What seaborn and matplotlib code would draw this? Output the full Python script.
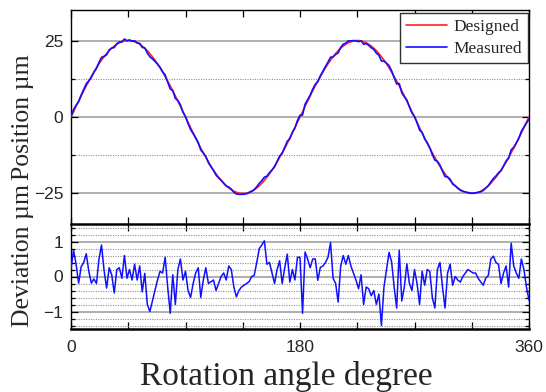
import numpy as np
import pandas as pd
import matplotlib
matplotlib.use("Agg")
import matplotlib.pyplot as plt
import seaborn as sns

# ---------------- data ----------------
angles = list(range(0, 361, 2))  # rotation angle, degree

designed = [
    0.0, 1.7, 3.5, 5.2, 6.9, 8.6, 10.2, 11.7, 13.2, 14.7, 16.1, 17.4, 18.6, 19.7, 20.7, 21.7, 22.5, 23.2, 23.8, 24.3, 24.6, 24.9, 25.0,
    25.0, 24.9, 24.6, 24.3, 23.8, 23.2, 22.5, 21.7, 20.7, 19.7, 18.6, 17.4, 16.1, 14.7, 13.2, 11.7, 10.2, 8.6, 6.9, 5.2, 3.5, 1.7,
    0.0, -1.7, -3.5, -5.2, -6.9, -8.6, -10.2, -11.7, -13.2, -14.7, -16.1, -17.4, -18.6, -19.7, -20.7, -21.7, -22.5, -23.2, -23.8, -24.3, -24.6, -24.9, -25.0,
    -25.0, -24.9, -24.6, -24.3, -23.8, -23.2, -22.5, -21.7, -20.7, -19.7, -18.6, -17.4, -16.1, -14.7, -13.2, -11.7, -10.2, -8.6, -6.9, -5.2, -3.5, -1.7,
    0.0, 1.7, 3.5, 5.2, 6.9, 8.6, 10.2, 11.7, 13.2, 14.7, 16.1, 17.4, 18.6, 19.7, 20.7, 21.7, 22.5, 23.2, 23.8, 24.3, 24.6, 24.9, 25.0,
    25.0, 24.9, 24.6, 24.3, 23.8, 23.2, 22.5, 21.7, 20.7, 19.7, 18.6, 17.4, 16.1, 14.7, 13.2, 11.7, 10.2, 8.6, 6.9, 5.2, 3.5, 1.7,
    0.0, -1.7, -3.5, -5.2, -6.9, -8.6, -10.2, -11.7, -13.2, -14.7, -16.1, -17.4, -18.6, -19.7, -20.7, -21.7, -22.5, -23.2, -23.8, -24.3, -24.6, -24.9, -25.0,
    -25.0, -24.9, -24.6, -24.3, -23.8, -23.2, -22.5, -21.7, -20.7, -19.7, -18.6, -17.4, -16.1, -14.7, -13.2, -11.7, -10.2, -8.6, -6.9, -5.2, -3.5, -1.7,
    0.0,
]

deviation = [
    0.22, 0.75, 0.35, -0.19, 0.28, 0.40, 0.65, 0.15, -0.19, -0.07,
    -0.20, 0.50, 0.90, 0.17, -0.33, 0.25, 0.05, -0.47, 0.20, 0.25,
    -0.05, 0.60, -0.05, 0.20, -0.10, 0.35, -0.10, 0.30, -0.44, 0.09,
    -0.80, -1.00, -0.70, -0.40, -0.10, 0.15, 0.10, 0.55, -0.30, -1.05,
    0.05, -0.80, 0.20, 0.50, -0.10, 0.15, -0.40, -0.60, -0.20, 0.10,
    0.25, -0.60, -0.10, 0.25, -0.20, -0.15, -0.10, -0.40, -0.20, 0.00,
    0.10,
    -0.10, 0.30, 0.20, -0.30, -0.58, -0.40, -0.30, -0.25, -0.20, -0.15,
    0.00, 0.03, 0.40, 0.80, 0.90, 1.02, 0.35, 0.40, 0.10, -0.20,
    0.20, 0.45, -0.20, 0.25, 0.64, -0.16, 0.20, -0.10, 0.55, 0.55,
    -1.05, 0.70, 0.50, 0.25, 0.50, 0.50, -0.11, 0.26, 0.30, 0.40,
    0.55, 0.97, -0.05, -0.20, -0.73, 0.30, 0.60, 0.35, 0.60, 0.30,
    0.10, -0.10, -0.35, 0.05, -0.80, -0.30, -0.35, -0.55, -0.40, -0.80,
    -0.50, -1.40, -0.30, 0.20, 0.69, 0.42, -0.30, -0.90, 0.75, -0.70,
    -0.30, 0.36, -0.20, -0.40, 0.20, -0.20, -0.80, 0.15, -0.25, 0.20,
    0.15, -0.60, -0.90, 0.20, 0.40, -0.30, -0.90, 0.10, 0.35, -0.25,
    0.00,
    -0.10, -0.16, 0.00, 0.10, 0.20, 0.15, 0.10, 0.10, -0.05, -0.15,
    -0.25, -0.05, 0.03, 0.50, 0.58, 0.40, 0.35, -0.20, 0.10, 0.30,
    -0.30, 0.95, 0.30, 0.10, -0.05, 0.50, 0.20, -0.30, -0.68,
]

measured = [d + e for d, e in zip(designed, deviation)]

x_ticks = [0, 180, 360]
x_tick_labels = ["0", "180", "360"]
x_minor = [45, 90, 135, 225, 270, 315]
pos_ticks = [-25, 0, 25]
pos_minor = [-12.5, 12.5]
dev_ticks = [-1, 0, 1]
dev_minor = [-1.4, -1.2, -0.8, -0.6, -0.4, -0.2, 0.2, 0.4, 0.6, 0.8, 1.2, 1.4]

df = pd.DataFrame({"angle": angles, "Designed": designed,
                   "Measured": measured, "Deviation": deviation})

# ---------------- style ----------------
sns.set_style("white")
plt.rcParams["font.family"] = ["Liberation Sans", "DejaVu Sans"]
plt.rcParams["axes.unicode_minus"] = True

fig = plt.figure(figsize=(5.46, 3.92), dpi=100)
L, W = 71 / 546, 458 / 546
ax1 = fig.add_axes([L, 1 - 224 / 392, W, 214 / 392])
ax2 = fig.add_axes([L, 1 - 329 / 392, W, 105 / 392])

serif = ["Liberation Serif", "DejaVu Serif"]

# top panel: position
sns.lineplot(data=df, x="angle", y="Designed", ax=ax1, color="#ff2020",
             lw=1.2, label="Designed", estimator=None, sort=False, zorder=3)
sns.lineplot(data=df, x="angle", y="Measured", ax=ax1, color="#1010ff",
             lw=1.2, label="Measured", estimator=None, sort=False, zorder=4)

ax1.set_xlim(0, 360)
ax1.set_ylim(-35, 35)
ax1.set_yticks(pos_ticks)
ax1.set_yticklabels(["\u221225", "0", "25"])
ax1.set_yticks(pos_minor, minor=True)
ax1.set_xticks(x_ticks)
ax1.set_xticks(x_minor, minor=True)
ax1.tick_params(axis="x", which="both", labelbottom=False)
ax1.yaxis.grid(True, which="major", color="#a8a8a8", lw=1.3, ls="-", zorder=0)
ax1.yaxis.grid(True, which="minor", color="#909090", lw=0.8, ls=(0, (1, 1.2)), zorder=0)
ax1.set_xlabel("")
ax1.set_ylabel("Position \u00b5m", family=serif, fontsize=18.5)
ax1.yaxis.set_label_coords(-0.081, 0.5)
for s in ["top", "left", "right"]:
    ax1.spines[s].set_color("black")
    ax1.spines[s].set_linewidth(1.0)
ax1.spines["bottom"].set_visible(False)

leg = ax1.legend(loc="upper right", bbox_to_anchor=(0.998, 0.986),
                 borderaxespad=0, fancybox=False, framealpha=1,
                 edgecolor="#303030", prop={"family": serif, "size": 12.5},
                 handlelength=2.4, handletextpad=0.35, borderpad=0.35,
                 labelspacing=0.3)
leg.get_frame().set_linewidth(1.0)

# bottom panel: deviation
sns.lineplot(data=df, x="angle", y="Deviation", ax=ax2, color="#1010ff",
             lw=1.1, estimator=None, sort=False, zorder=3)
ax2.set_xlim(0, 360)
ax2.set_ylim(-1.5, 1.5)
ax2.set_yticks(dev_ticks)
ax2.set_yticklabels(["\u22121", "0", "1"])
ax2.set_yticks(dev_minor, minor=True)
ax2.set_xticks(x_ticks)
ax2.set_xticklabels(x_tick_labels)
ax2.set_xticks(x_minor, minor=True)
ax2.yaxis.grid(True, which="major", color="#a8a8a8", lw=1.3, ls="-", zorder=0)
ax2.yaxis.grid(True, which="minor", color="#909090", lw=0.8, ls=(0, (1, 1.2)), zorder=0)
ax2.set_xlabel("")
ax2.set_ylabel("Deviation \u00b5m", family=serif, fontsize=18.5)
ax2.yaxis.set_label_coords(-0.081, 0.70)
for s in ["left", "right"]:
    ax2.spines[s].set_color("black")
    ax2.spines[s].set_linewidth(1.0)
for s in ["top", "bottom"]:
    ax2.spines[s].set_color("black")
    ax2.spines[s].set_linewidth(1.8)

for ax in (ax1, ax2):
    ax.tick_params(which="both", direction="in", top=True, bottom=True,
                   left=True, right=True, length=5, width=0.9, color="black")
    ax.tick_params(axis="y", which="major", labelsize=12.5, pad=5.5)
    ax.tick_params(axis="y", which="minor", length=3)
    ax.tick_params(axis="x", which="major", labelsize=12.5, pad=8)

fig.text(286 / 546, 1 - 385 / 392, "Rotation angle degree", family=serif,
         fontsize=24, ha="center", va="baseline")

fig.savefig("out.png", dpi=100)
